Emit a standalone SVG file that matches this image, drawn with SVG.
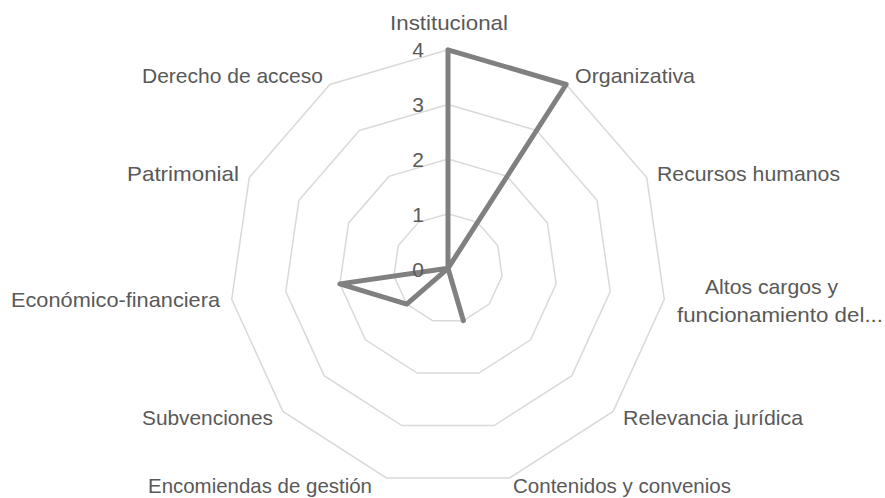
<svg xmlns="http://www.w3.org/2000/svg" width="885" height="498" viewBox="0 0 885 498">
<style>
.ring{fill:none;stroke:#d9d9d9;stroke-width:1.5}
.series{fill:none;stroke:#808080;stroke-width:5;stroke-linejoin:round}
text{font-family:"Liberation Sans",Arial,sans-serif;font-size:21px;fill:#595959}
.num{text-anchor:end}
.end{text-anchor:end}
.mid{text-anchor:middle}
</style>
<rect width="885" height="498" fill="#ffffff"/>
<g id="gridlines">
<polygon class="ring" points="448,213.68 477.53,222.35 497.69,245.61 502.07,276.07 489.28,304.07 463.39,320.71 432.61,320.71 406.72,304.07 393.93,276.07 398.31,245.61 418.47,222.35"/>
<polygon class="ring" points="448,159.05 507.06,176.39 547.38,222.92 556.14,283.85 530.57,339.84 478.78,373.12 417.22,373.12 365.43,339.84 339.86,283.85 348.62,222.92 388.94,176.39"/>
<polygon class="ring" points="448,104.43 536.6,130.44 597.07,200.22 610.21,291.62 571.85,375.62 494.17,425.54 401.83,425.54 324.15,375.62 285.79,291.62 298.93,200.22 359.4,130.44"/>
<polygon class="ring" points="448,49.8 566.13,84.49 646.75,177.53 664.28,299.39 613.13,411.39 509.56,477.95 386.44,477.95 282.87,411.39 231.72,299.39 249.25,177.53 329.87,84.49"/>
</g>
<g id="series">
<polygon class="series" points="448,49.8 566.13,84.49 448,268.3 448,268.3 448,268.3 463.39,320.71 448,268.3 406.72,304.07 339.86,283.85 448,268.3 448,268.3"/>
</g>
<g id="axis-values">
<text class="num" x="424" y="57">4</text>
<text class="num" x="424" y="112">3</text>
<text class="num" x="424" y="167">2</text>
<text class="num" x="424" y="222">1</text>
<text class="num" x="424" y="277">0</text>
</g>
<g id="cat-institucional"><text x="390" y="30" textLength="118" lengthAdjust="spacingAndGlyphs">Institucional</text></g>
<g id="cat-organizativa"><text x="575" y="83" textLength="120" lengthAdjust="spacingAndGlyphs">Organizativa</text></g>
<g id="cat-recursos"><text x="657" y="181" textLength="183" lengthAdjust="spacingAndGlyphs">Recursos humanos</text></g>
<g id="cat-altos"><text x="705" y="294" textLength="133" lengthAdjust="spacingAndGlyphs">Altos cargos y</text><text x="677" y="322" textLength="206" lengthAdjust="spacingAndGlyphs">funcionamiento del...</text></g>
<g id="cat-relevancia"><text x="623" y="425" textLength="180" lengthAdjust="spacingAndGlyphs">Relevancia jurídica</text></g>
<g id="cat-contenidos"><text x="513" y="493" textLength="218" lengthAdjust="spacingAndGlyphs">Contenidos y convenios</text></g>
<g id="cat-encomiendas"><text x="148" y="493" textLength="224" lengthAdjust="spacingAndGlyphs">Encomiendas de gestión</text></g>
<g id="cat-subvenciones"><text x="142" y="425" textLength="131" lengthAdjust="spacingAndGlyphs">Subvenciones</text></g>
<g id="cat-economico"><text x="11" y="307" textLength="209" lengthAdjust="spacingAndGlyphs">Económico-financiera</text></g>
<g id="cat-patrimonial"><text x="127" y="181" textLength="112" lengthAdjust="spacingAndGlyphs">Patrimonial</text></g>
<g id="cat-derecho"><text x="142" y="83" textLength="181" lengthAdjust="spacingAndGlyphs">Derecho de acceso</text></g>
</svg>
